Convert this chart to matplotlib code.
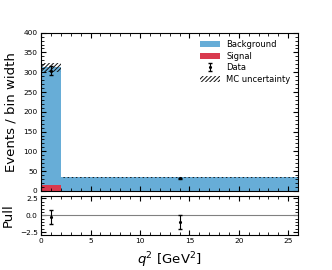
import numpy as np
import matplotlib
matplotlib.use("Agg")
import matplotlib.pyplot as plt

# q^2 binning and yields (events / bin width)
edges = np.array([0.0, 2.0, 26.0])
signal = np.array([15.0, 0.5])
background = np.array([297.0, 33.5])
mc_unc = np.array([11.5, 0.6])
data_x = np.array([1.0, 14.0])
data_y = np.array([304.0, 32.5])
data_err = np.array([12.0, 1.2])
pull = np.array([-0.25, -1.0])
pull_err = np.array([1.0, 1.0])

blue = "#67add7"
red = "#d93a4e"

plt.rcParams["font.size"] = 5.3
plt.rcParams["hatch.linewidth"] = 0.7

fig = plt.figure(figsize=(3.32, 2.70), dpi=100)
ax1 = fig.add_axes([0.124, 0.293, 0.774, 0.586])
ax2 = fig.add_axes([0.124, 0.130, 0.774, 0.145], sharex=ax1)

total = signal + background
widths = np.diff(edges)

# Stacked histogram: signal at bottom, background on top
ax1.bar(edges[:-1], signal, width=widths, align="edge", color=red,
        edgecolor="none", label="Signal")
ax1.bar(edges[:-1], background, width=widths, bottom=signal, align="edge",
        color=blue, edgecolor="none", label="Background")
ax1.bar(edges[:-1], 2 * mc_unc, width=widths, bottom=total - mc_unc,
        align="edge", fill=False, hatch="////////", edgecolor="#111111",
        linewidth=0, label="MC uncertainty")
ax1.errorbar(data_x, data_y, yerr=data_err, fmt=".", color="k",
             markersize=2.5, capsize=1.2, elinewidth=0.8, label="Data")

handles, labels = ax1.get_legend_handles_labels()
order = [labels.index(l) for l in ["Background", "Signal", "Data", "MC uncertainty"]]
ax1.legend([handles[i] for i in order], [labels[i] for i in order],
           loc="upper right", frameon=False, fontsize=6,
           handlelength=2.4, handletextpad=0.8, borderaxespad=0.5,
           labelspacing=0.3)

ax1.set_xlim(0, 26)
ax1.set_ylim(0, 400)
ax1.set_ylabel("Events / bin width", fontsize=9.5)
ax1.tick_params(labelbottom=False)

# Pull panel
ax2.axhline(0, color="gray", linewidth=0.8)
ax2.errorbar(data_x, pull, yerr=pull_err, fmt=".", color="k",
             markersize=2.5, capsize=1.2, elinewidth=0.8)
ax2.set_ylim(-2.9, 2.9)
ax2.set_yticks([-2.5, 0.0, 2.5])
ax2.set_ylabel("Pull", fontsize=9.5)
ax2.set_xlabel(r"$q^2$ [GeV$^2$]", fontsize=9.5)

for ax in (ax1, ax2):
    ax.minorticks_on()
    ax.tick_params(which="both", direction="in", top=True, right=True)
    ax.tick_params(which="major", length=3.5, width=0.8, pad=2.5)
    ax.tick_params(which="minor", length=2, width=0.6)
    for s in ax.spines.values():
        s.set_linewidth(0.8)

fig.savefig("out.png", dpi=100)
